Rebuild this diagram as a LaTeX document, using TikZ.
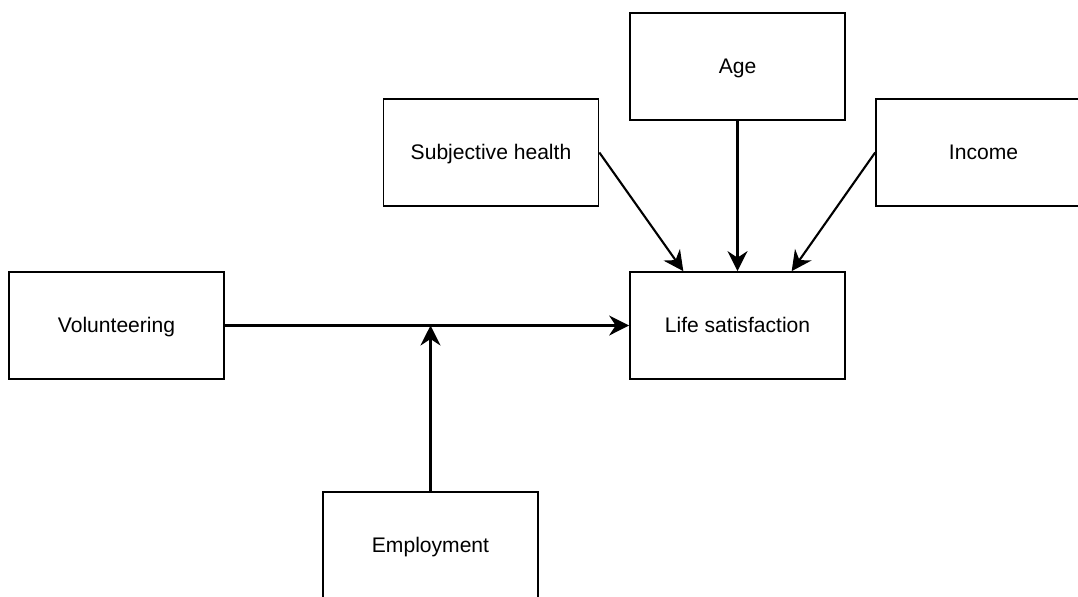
\documentclass[tikz,border=0pt]{standalone}
\usepackage{fontspec}
\setmainfont{Liberation Sans}
\usetikzlibrary{arrows.meta,calc}

\tikzset{
    varbox/.style={draw, line width=1pt, fill=white, minimum width=4.3cm, minimum height=2.14cm, text height=10.5pt, text depth=2.3pt, font=\fontsize{12}{14}\selectfont},
    effect/.style={line width=1.2pt, -{Stealth[length=4mm, width=4mm, inset=1.3mm]}}
}

\begin{document}
\begin{tikzpicture}[x=0.02cm, y=-0.02cm]
\clip (0,0) rectangle (1078,596);

% Variables
\foreach \name/\x/\y/\label in {
    age/737.5/66.5/Age,
    health/491/152.5/Subjective health,
    income/983.5/152.5/Income,
    vol/116.5/325.5/Volunteering,
    life/737.5/325.5/Life satisfaction,
    emp/430.5/545.5/Employment
} {
    \node[varbox] (\name) at (\x,\y) {\label};
}

% Paths
\coordinate (mod) at (emp.north |- vol.east);
\draw[effect] (vol.east) -- (life.west);
\draw[effect] (emp.north) -- (mod);
\draw[effect] (health.east) -- ($(life.north west)!0.25!(life.north east)$);
\draw[effect] (age.south) -- (life.north);
\draw[effect] (income.west) -- ($(life.north west)!0.75!(life.north east)$);
\end{tikzpicture}
\end{document}
